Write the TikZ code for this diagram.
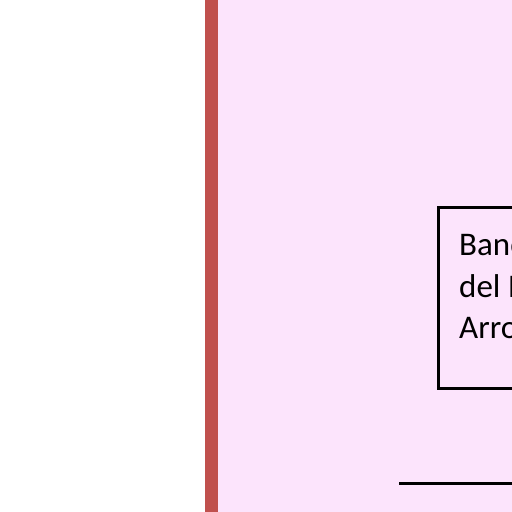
\documentclass[tikz,border=0pt]{standalone}
\usepackage{fontspec}
\setmainfont{Carlito}
\usepackage{tikz}
\definecolor{lanepink}{RGB}{252,228,252}
\definecolor{lanered}{RGB}{192,80,77}

\begin{document}
\begin{tikzpicture}[x=1pt, y=-1pt]
\useasboundingbox (0,0) rectangle (512,512);
\clip (0,0) rectangle (512,512);
\tikzset{
  lane/.style={fill=lanepink, draw=none},
  actbox/.style={draw=black, line width=3pt, fill=lanepink,
    minimum height=181pt, minimum width=240pt, anchor=north west},
  acttext/.style={align=left, inner sep=0pt, anchor=north west,
    font=\fontsize{33}{41.5}\selectfont}
}
% swimlane
\fill[lane] (211,-10) rectangle (560,530);
\draw[lanered, line width=13pt] (211.5,-10) -- (211.5,530);

% activity
\node[actbox] (banco) at (436.5,205.5) {};
\node[acttext] (bancotxt) at (459,234.5) {Banco\\del Instituto\\Arroyo};

% flow out below
\coordinate (flowA) at (399,483);
\coordinate (flowB) at (560,483);
\draw[black, line width=3pt] (flowA) -- (flowB);
\end{tikzpicture}
\end{document}
